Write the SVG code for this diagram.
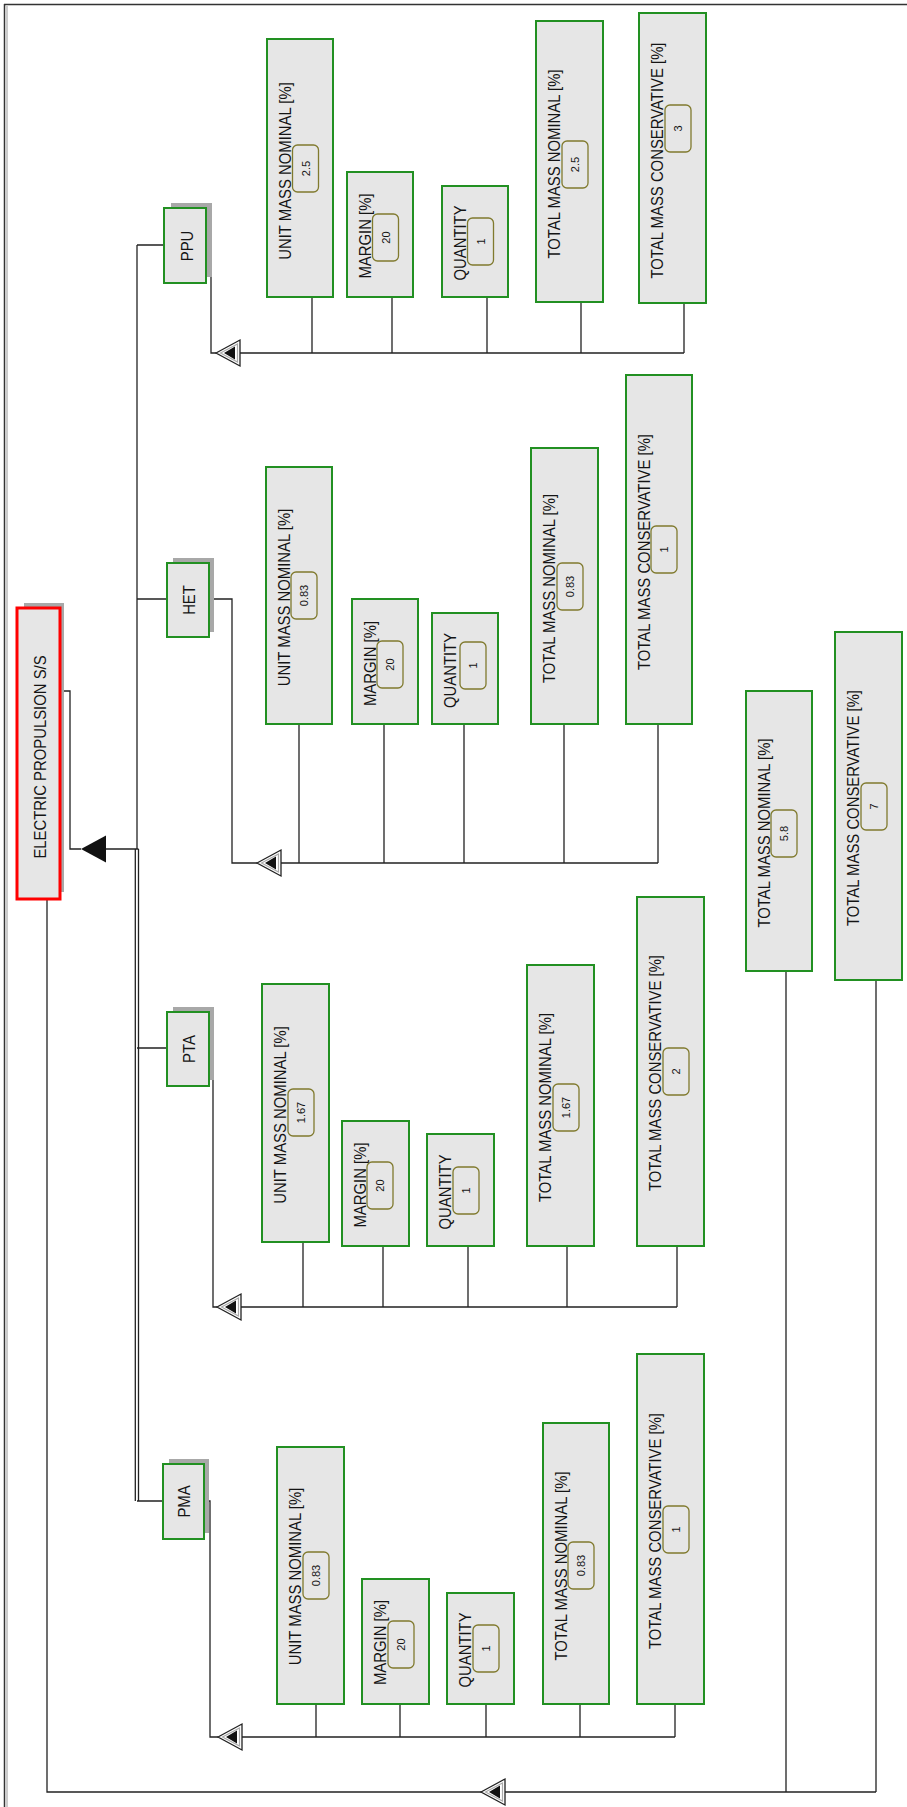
<svg xmlns="http://www.w3.org/2000/svg" xmlns:xlink="http://www.w3.org/1999/xlink" width="907" height="1807" viewBox="0 0 907 1807">
<style>
.box{fill:#e6e6e6;stroke:#229022;stroke-width:2}
.vb{fill:#e6e6e6;stroke:#807a2e;stroke-width:1.3}
.sh{fill:#a8a8a8}
.lbl{font-family:"Liberation Sans",Arial,sans-serif;font-size:16px;fill:#141414;text-anchor:middle}
.val{font-family:"Liberation Sans",Arial,sans-serif;font-size:11px;fill:#141414;text-anchor:middle}
.ln{fill:none;stroke:#222;stroke-width:1.3}
</style>
<defs>
<g id="ah">
<polygon points="0,0 24,-13 24,13" fill="#fff" stroke="#222" stroke-width="1.3"/>
<polygon points="4.5,0 21.5,-9 21.5,9" fill="none" stroke="#aaa" stroke-width="1.2"/>
<polygon points="8,0 19,-6.5 19,6.5" fill="#111"/>
</g>
</defs>
<rect width="907" height="1807" fill="#fff"/>
<g id="frame">
<line x1="4" y1="4.5" x2="907" y2="4.5" stroke="#333" stroke-width="1.5"/>
<line x1="4.5" y1="4" x2="4.5" y2="1807" stroke="#333" stroke-width="1.5"/>
<line x1="7" y1="6" x2="7" y2="1807" stroke="#999" stroke-width="1"/>
</g>
<g id="connectors">
<path class="ln" d="M137,245 V849"/>
<path class="ln" d="M135.3,849 V1501 M138.5,849 V1501"/>
<path class="ln" d="M137,245 H164 M137,599 H167 M137,1048 H167 M137,1501 H163"/>
<path class="ln" d="M60,691 H70 V849 H81 M106,849 H138.5"/>
<polygon points="81,849 106,835.5 106,862.5" fill="#111"/>
<path class="ln" d="M206,245 H211 V353 H216 M240,353 H684 M312,297 V353 M392,297 V353 M487,297 V353 M581,302 V353 M684,303 V353"/>
<path class="ln" d="M209,599 H232 V863 H257 M280,863 H658 M299,724 V863 M384,724 V863 M464,724 V863 M564,724 V863 M658,724 V863"/>
<path class="ln" d="M209,1048 H213 V1307 H217 M240,1307 H677 M303,1242 V1307 M383,1246 V1307 M468,1246 V1307 M567,1246 V1307 M677,1246 V1307"/>
<path class="ln" d="M204,1501 H210 V1737 H218 M241,1737 H675 M316,1704 V1737 M400,1704 V1737 M486,1704 V1737 M580,1704 V1737 M675,1704 V1737"/>
<path class="ln" d="M47,899 V1792 H876 M786,971 V1792 M876,980 V1792"/>
<use xlink:href="#ah" href="#ah" x="216" y="353"/>
<use xlink:href="#ah" href="#ah" x="257" y="863"/>
<use xlink:href="#ah" href="#ah" x="217" y="1307"/>
<use xlink:href="#ah" href="#ah" x="218" y="1737"/>
<use xlink:href="#ah" href="#ah" x="481" y="1792"/>
</g>
<g id="n_eps">
<rect class="sh" x="24" y="603" width="40" height="289"/>
<rect x="17" y="608" width="43" height="291" fill="#e6e6e6" stroke="#ff0000" stroke-width="3"/>
<text class="lbl" transform="translate(45.5,757) rotate(-90) scale(0.93,1)">ELECTRIC PROPULSION S/S</text>
</g>
<g id="n_ppu">
<rect class="sh" x="171" y="203" width="41" height="74"/>
<rect class="box" x="164" y="208" width="42" height="75"/>
<text class="lbl" transform="translate(192.5,246) rotate(-90) scale(0.93,1)">PPU</text>
</g>
<g id="n_het">
<rect class="sh" x="173" y="558" width="41" height="74"/>
<rect class="box" x="167" y="563" width="42" height="74"/>
<text class="lbl" transform="translate(194.5,600) rotate(-90) scale(0.93,1)">HET</text>
</g>
<g id="n_pta">
<rect class="sh" x="173" y="1007" width="41" height="73"/>
<rect class="box" x="167" y="1012" width="42" height="74"/>
<text class="lbl" transform="translate(194.5,1049) rotate(-90) scale(0.93,1)">PTA</text>
</g>
<g id="n_pma">
<rect class="sh" x="169" y="1459" width="40" height="74"/>
<rect class="box" x="163" y="1464" width="41" height="75"/>
<text class="lbl" transform="translate(190,1501.5) rotate(-90) scale(0.93,1)">PMA</text>
</g>
<g id="n_ppu_umn"><rect class="box" x="267" y="39" width="66" height="258"/><text class="lbl" transform="translate(290.5,171) rotate(-90) scale(0.93,1)">UNIT MASS NOMINAL [%]</text><rect class="vb" x="292.5" y="145" width="26" height="47" rx="5"/><text class="val" transform="translate(309.5,168.5) rotate(-90)">2.5</text></g>
<g id="n_ppu_mar"><rect class="box" x="347" y="172" width="66" height="125"/><text class="lbl" transform="translate(370.5,236) rotate(-90) scale(0.93,1)">MARGIN [%]</text><rect class="vb" x="372.5" y="214" width="26" height="47" rx="5"/><text class="val" transform="translate(389.5,237.5) rotate(-90)">20</text></g>
<g id="n_ppu_qty"><rect class="box" x="442" y="186" width="66" height="111"/><text class="lbl" transform="translate(465.5,243) rotate(-90) scale(0.93,1)">QUANTITY</text><rect class="vb" x="467.5" y="218" width="26" height="47" rx="5"/><text class="val" transform="translate(484.5,241.5) rotate(-90)">1</text></g>
<g id="n_ppu_tmn"><rect class="box" x="536" y="21" width="67" height="281"/><text class="lbl" transform="translate(559.5,164) rotate(-90) scale(0.93,1)">TOTAL MASS NOMINAL [%]</text><rect class="vb" x="562" y="141" width="26" height="47" rx="5"/><text class="val" transform="translate(579,164.5) rotate(-90)">2.5</text></g>
<g id="n_ppu_tmc"><rect class="box" x="639" y="13" width="67" height="290"/><text class="lbl" transform="translate(662.5,160.5) rotate(-90) scale(0.93,1)">TOTAL MASS CONSERVATIVE [%]</text><rect class="vb" x="665" y="105" width="26" height="47" rx="5"/><text class="val" transform="translate(682,128.5) rotate(-90)">3</text></g>
<g id="n_het_umn"><rect class="box" x="266" y="467" width="66" height="257"/><text class="lbl" transform="translate(289.5,597.5) rotate(-90) scale(0.93,1)">UNIT MASS NOMINAL [%]</text><rect class="vb" x="291" y="572" width="26" height="47" rx="5"/><text class="val" transform="translate(308,595.5) rotate(-90)">0.83</text></g>
<g id="n_het_mar"><rect class="box" x="352" y="599" width="66" height="125"/><text class="lbl" transform="translate(375.5,663.5) rotate(-90) scale(0.93,1)">MARGIN [%]</text><rect class="vb" x="377" y="641" width="26" height="47" rx="5"/><text class="val" transform="translate(394,664.5) rotate(-90)">20</text></g>
<g id="n_het_qty"><rect class="box" x="432" y="613" width="66" height="111"/><text class="lbl" transform="translate(455.5,670.5) rotate(-90) scale(0.93,1)">QUANTITY</text><rect class="vb" x="460" y="642" width="26" height="47" rx="5"/><text class="val" transform="translate(477,665.5) rotate(-90)">1</text></g>
<g id="n_het_tmn"><rect class="box" x="531" y="448" width="67" height="276"/><text class="lbl" transform="translate(554.5,588.5) rotate(-90) scale(0.93,1)">TOTAL MASS NOMINAL [%]</text><rect class="vb" x="557" y="563" width="26" height="47" rx="5"/><text class="val" transform="translate(574,586.5) rotate(-90)">0.83</text></g>
<g id="n_het_tmc"><rect class="box" x="626" y="375" width="66" height="349"/><text class="lbl" transform="translate(649.5,552) rotate(-90) scale(0.93,1)">TOTAL MASS CONSERVATIVE [%]</text><rect class="vb" x="651" y="526" width="26" height="47" rx="5"/><text class="val" transform="translate(668,549.5) rotate(-90)">1</text></g>
<g id="n_pta_umn"><rect class="box" x="262" y="984" width="67" height="258"/><text class="lbl" transform="translate(285.5,1115) rotate(-90) scale(0.93,1)">UNIT MASS NOMINAL [%]</text><rect class="vb" x="288" y="1089" width="26" height="47" rx="5"/><text class="val" transform="translate(305,1112.5) rotate(-90)">1.67</text></g>
<g id="n_pta_mar"><rect class="box" x="342" y="1121" width="67" height="125"/><text class="lbl" transform="translate(365.5,1185) rotate(-90) scale(0.93,1)">MARGIN [%]</text><rect class="vb" x="367" y="1162" width="26" height="47" rx="5"/><text class="val" transform="translate(384,1185.5) rotate(-90)">20</text></g>
<g id="n_pta_qty"><rect class="box" x="427" y="1134" width="67" height="112"/><text class="lbl" transform="translate(450.5,1192) rotate(-90) scale(0.93,1)">QUANTITY</text><rect class="vb" x="453" y="1167" width="26" height="47" rx="5"/><text class="val" transform="translate(470,1190.5) rotate(-90)">1</text></g>
<g id="n_pta_tmn"><rect class="box" x="527" y="965" width="67" height="281"/><text class="lbl" transform="translate(550.5,1107.5) rotate(-90) scale(0.93,1)">TOTAL MASS NOMINAL [%]</text><rect class="vb" x="553" y="1084" width="26" height="47" rx="5"/><text class="val" transform="translate(570,1107.5) rotate(-90)">1.67</text></g>
<g id="n_pta_tmc"><rect class="box" x="637" y="897" width="67" height="349"/><text class="lbl" transform="translate(660.5,1073) rotate(-90) scale(0.93,1)">TOTAL MASS CONSERVATIVE [%]</text><rect class="vb" x="663" y="1048" width="26" height="47" rx="5"/><text class="val" transform="translate(680,1071.5) rotate(-90)">2</text></g>
<g id="n_pma_umn"><rect class="box" x="277" y="1447" width="67" height="257"/><text class="lbl" transform="translate(300.5,1576.5) rotate(-90) scale(0.93,1)">UNIT MASS NOMINAL [%]</text><rect class="vb" x="303" y="1552" width="26" height="47" rx="5"/><text class="val" transform="translate(320,1575.5) rotate(-90)">0.83</text></g>
<g id="n_pma_mar"><rect class="box" x="362" y="1579" width="67" height="125"/><text class="lbl" transform="translate(385.5,1642.5) rotate(-90) scale(0.93,1)">MARGIN [%]</text><rect class="vb" x="388" y="1621" width="26" height="47" rx="5"/><text class="val" transform="translate(405,1644.5) rotate(-90)">20</text></g>
<g id="n_pma_qty"><rect class="box" x="447" y="1593" width="67" height="111"/><text class="lbl" transform="translate(470.5,1650) rotate(-90) scale(0.93,1)">QUANTITY</text><rect class="vb" x="473" y="1625" width="26" height="47" rx="5"/><text class="val" transform="translate(490,1648.5) rotate(-90)">1</text></g>
<g id="n_pma_tmn"><rect class="box" x="543" y="1423" width="66" height="281"/><text class="lbl" transform="translate(566.5,1566) rotate(-90) scale(0.93,1)">TOTAL MASS NOMINAL [%]</text><rect class="vb" x="568" y="1542" width="26" height="47" rx="5"/><text class="val" transform="translate(585,1565.5) rotate(-90)">0.83</text></g>
<g id="n_pma_tmc"><rect class="box" x="637" y="1354" width="67" height="350"/><text class="lbl" transform="translate(660.5,1531) rotate(-90) scale(0.93,1)">TOTAL MASS CONSERVATIVE [%]</text><rect class="vb" x="663" y="1506" width="26" height="47" rx="5"/><text class="val" transform="translate(680,1529.5) rotate(-90)">1</text></g>
<g id="n_tmn"><rect class="box" x="746" y="691" width="66" height="280"/><text class="lbl" transform="translate(769.5,833) rotate(-90) scale(0.93,1)">TOTAL MASS NOMINAL [%]</text><rect class="vb" x="771" y="810" width="26" height="47" rx="5"/><text class="val" transform="translate(788,833.5) rotate(-90)">5.8</text></g>
<g id="n_tmc"><rect class="box" x="835" y="632" width="67" height="348"/><text class="lbl" transform="translate(858.5,808) rotate(-90) scale(0.93,1)">TOTAL MASS CONSERVATIVE [%]</text><rect class="vb" x="861" y="783" width="26" height="47" rx="5"/><text class="val" transform="translate(878,806.5) rotate(-90)">7</text></g>
</svg>
